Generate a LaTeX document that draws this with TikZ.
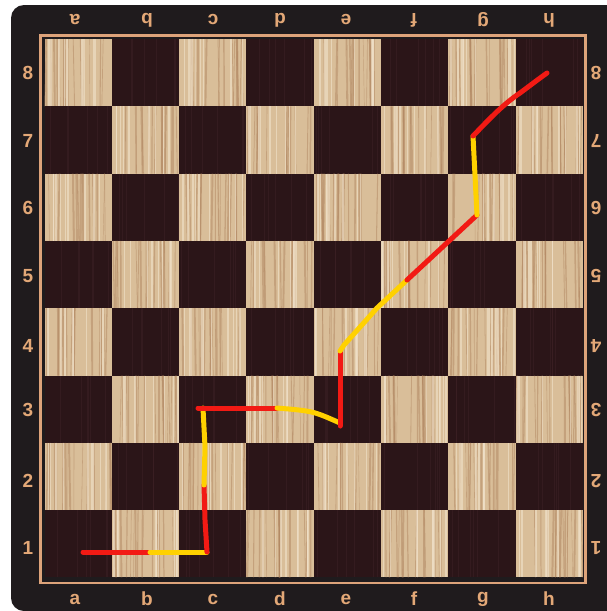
\documentclass[tikz,border=0pt]{standalone}
\usepackage{fontspec}
\setmainfont{Liberation Sans}
\definecolor{framecol}{HTML}{1F1B1D}
\definecolor{tancol}{HTML}{DDA37A}
\definecolor{labelcol}{HTML}{E3A877}
\definecolor{lightsq}{HTML}{D9BE99}
\definecolor{graindark}{HTML}{B08560}
\definecolor{grainlight}{HTML}{F0E0C8}
\definecolor{darksq}{HTML}{2B1518}
\definecolor{darkgrain}{HTML}{3E2226}
\definecolor{pathred}{HTML}{F21A14}
\definecolor{pathyellow}{HTML}{FFD100}
\tikzset{
  boardlabel/.style={text=labelcol, font=\fontsize{19}{19}\selectfont\bfseries, inner sep=0pt},
  flipped/.style={boardlabel, rotate=180},
  redseg/.style={draw=pathred, line width=5pt, line cap=round, line join=round},
  yelseg/.style={draw=pathyellow, line width=5pt, line cap=round, line join=round},
}
\begin{document}
\begin{tikzpicture}[x=1pt,y=-1pt]
\useasboundingbox (0,0) rectangle (607,611);
\clip (0,0) rectangle (607,611);
\fill[white] (0,0) rectangle (607,611);
\fill[framecol, rounded corners=13pt] (11,5) rectangle (640,611);
\fill[framecol] (300,5) rectangle (640,640);
\draw[tancol, line width=2.2pt] (40.5,35.5) rectangle (585.5,583);
\pgfmathsetseed{4242}
\def\sq{67.3}
\def\xo{44.5}
\def\yo{39}
\foreach \c in {0,...,7}{
  \foreach \r in {0,...,7}{
    \pgfmathsetmacro\xa{\xo+\c*\sq}
    \pgfmathsetmacro\ya{\yo+\r*\sq}
    \pgfmathtruncatemacro\sqpar{mod(\c+\r,2)}
    \ifnum\sqpar=0
      \fill[lightsq] (\xa,\ya) rectangle ++(\sq,\sq);
      \foreach \k in {1,...,16}{
        \pgfmathsetmacro\gx{\xa+1+rnd*(\sq-2)}
        \pgfmathsetmacro\gw{0.4+rnd*1.6}
        \pgfmathsetmacro\gd{(rnd-0.5)*3}
        \draw[graindark, opacity=0.5, line width=\gw pt] (\gx,\ya) -- (\gx+\gd,\ya+\sq);
      }
      \foreach \k in {1,...,9}{
        \pgfmathsetmacro\gx{\xa+1+rnd*(\sq-2)}
        \pgfmathsetmacro\gw{0.5+rnd*1.8}
        \draw[grainlight, opacity=0.65, line width=\gw pt] (\gx,\ya) -- (\gx,\ya+\sq);
      }
    \else
      \fill[darksq] (\xa,\ya) rectangle ++(\sq,\sq);
      \foreach \k in {1,...,6}{
        \pgfmathsetmacro\gx{\xa+1+rnd*(\sq-2)}
        \draw[darkgrain, opacity=0.5, line width=0.8pt] (\gx,\ya) -- (\gx,\ya+\sq);
      }
    \fi
  }
}
% file labels
\foreach \f/\xx in {a/75,b/147,c/213,d/280,e/346,f/414,g/483,h/549}{
  \node[boardlabel] (bot-\f) at (\xx,599) {\f};
  \node[flipped] (top-\f) at (\xx,20) {\f};
}
% rank labels
\foreach \n/\yy in {8/73,7/141,6/208,5/276,4/346,3/410,2/481,1/548}{
  \node[boardlabel] (left-\n) at (28,\yy) {\n};
  \node[flipped] (right-\n) at (596,\yy) {\n};
}
% path
\coordinate (p1) at (83,552);
\coordinate (p2) at (150,552);
\coordinate (p3) at (207,552);
\coordinate (p4) at (204,485);
\coordinate (p5) at (203,408);
\coordinate (p6) at (277,408);
\coordinate (p7) at (340,423);
\coordinate (p8) at (340,351);
\coordinate (p9) at (407,280);
\coordinate (p10) at (477,215);
\coordinate (p11) at (473,136);
\coordinate (p12) at (547,73);
\draw[redseg] (p1) -- (p2);
\draw[yelseg] (p2) -- (p3);
\draw[redseg] (p3) -- (205,520) -- (p4);
\draw[yelseg] (p4) -- (205,447) -- (p5);
\draw[redseg] (198,408) -- (p6);
\draw[yelseg] (p6) .. controls (313,411) .. (p7);
\draw[redseg] (340,426) -- (p8);
\draw[yelseg] (p8) -- (344,345) -- (377,308) -- (p9);
\draw[redseg] (p9) -- (p10);
\draw[yelseg] (p10) -- (p11);
\draw[redseg] (p11) .. controls (492,116) and (505,103) .. (520,93) .. controls (532,84) and (540,78) .. (p12);
\end{tikzpicture}
\end{document}
